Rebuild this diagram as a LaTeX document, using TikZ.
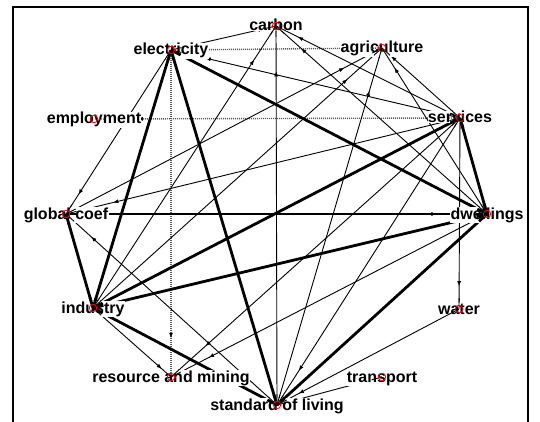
\documentclass[tikz,border=0pt]{standalone}
\usepackage{fontspec}
\setmainfont{Liberation Sans}[BoldFont={Liberation Sans Bold}]
\usetikzlibrary{arrows.meta,decorations.markings}
\tikzset{
 thin/.style={line width=0.9pt,black},
 heavy/.style={line width=2.8pt,black},
 dots/.style={line width=1.4pt,black!65,dash pattern=on 1pt off 1pt},
 tip/.style={postaction={decorate},decoration={markings,mark=at position 0.88 with {\arrow[solid,line width=0.6pt,black]{Latex[length=5pt,width=4pt]}}}},
 lab/.style={anchor=base,fill=white,inner sep=0.3pt,font=\fontsize{16}{18}\selectfont\bfseries},
 vtx/.style={draw=red,line width=0.8pt,circle,minimum size=7.5pt,inner sep=0pt},
}
\newcommand\alledges{%
 % dotted
 \draw[dots,tip] (E) -- (A);
 \draw[dots,tip] (S) -- (M);
 \draw[dots,tip] (E) -- (R);
 % thin directed
 \draw[thin,tip] (E) -- (C);
 \draw[thin,tip] (L) -- (C);
 \draw[thin,tip] (I) -- (C);
 \draw[thin,tip] (S) -- (C);
 \draw[thin,tip] (D) -- (C);
 \draw[thin,tip] (S) -- (E);
 \draw[thin,tip] (E) -- (G);
 \draw[thin,tip] (S) -- (G);
 \draw[thin,tip] (L) -- (G);
 \draw[thin,tip] (G) -- (A);
 \draw[thin,tip] (I) -- (A);
 \draw[thin,tip] (L) -- (A);
 \draw[thin,tip] (S) -- (A);
 \draw[thin,tip] (D) -- (A);
 \draw[thin,tip] (S) -- (W);
 \draw[thin,tip] (W) -- (L);
 \draw[thin,tip] (T) -- (L);
 \draw[thin,tip] (S) -- (L);
 \draw[thin,tip] (I) -- (R);
 \draw[thin,tip] (S) -- (R);
 \draw[thin,tip] (D) -- (R);
 % thick
 \draw[heavy,tip] (G) -- (D);
 \draw[heavy] (E) -- (I);
 \draw[heavy] (E) -- (L);
 \draw[heavy] (E) -- (D);
 \draw[heavy] (G) -- (I);
 \draw[heavy] (I) -- (S);
 \draw[heavy] (I) -- (D);
 \draw[heavy] (I) -- (L);
 \draw[heavy] (S) -- (D);
 \draw[heavy] (L) -- (D);
}
\begin{document}
\begin{tikzpicture}[x=1pt,y=-1pt]
\useasboundingbox (0,0) rectangle (540,422);
\draw[line width=1.3pt] (13,422) -- (13,7) -- (528,7) -- (528,422);
\coordinate (C) at (276,26);
\coordinate (E) at (171,50);
\coordinate (A) at (382,48);
\coordinate (S) at (460,118);
\coordinate (M) at (94,119);
\coordinate (G) at (66,214);
\coordinate (D) at (487,214);
\coordinate (W) at (459,309);
\coordinate (I) at (93,308);
\coordinate (R) at (171,377);
\coordinate (T) at (382,377);
\coordinate (L) at (277,405);
\alledges
\node[lab] (Cl) at ([yshift=-5pt]C) {carbon};
\node[lab] (El) at ([yshift=-5pt]E) {electricity};
\node[lab] (Al) at ([yshift=-5pt]A) {agriculture};
\node[lab] (Sl) at ([yshift=-5pt]S) {services};
\node[lab] (Ml) at ([yshift=-5pt]M) {employment};
\node[lab] (Gl) at ([yshift=-5pt]G) {global coef};
\node[lab] (Dl) at ([yshift=-5pt]D) {dwellings};
\node[lab] (Wl) at ([yshift=-5pt]W) {water};
\node[lab] (Il) at ([yshift=-5pt]I) {industry};
\node[lab] (Rl) at ([yshift=-5pt]R) {resource and mining};
\node[lab] (Tl) at ([yshift=-5pt]T) {transport};
\node[lab] (Ll) at ([yshift=-5pt]L) {standard of living};
\begin{scope}
\clip (C) circle[radius=11] (E) circle[radius=11] (A) circle[radius=11]
 (S) circle[radius=11] (M) circle[radius=11] (G) circle[radius=11]
 (D) circle[radius=11] (W) circle[radius=11] (I) circle[radius=11]
 (R) circle[radius=11] (T) circle[radius=11] (L) circle[radius=11];
\alledges
\end{scope}
\foreach \n in {C,E,A,S,M,G,D,W,I,R,T,L} \node[vtx] (\n v) at (\n) {};
\end{tikzpicture}
\end{document}
